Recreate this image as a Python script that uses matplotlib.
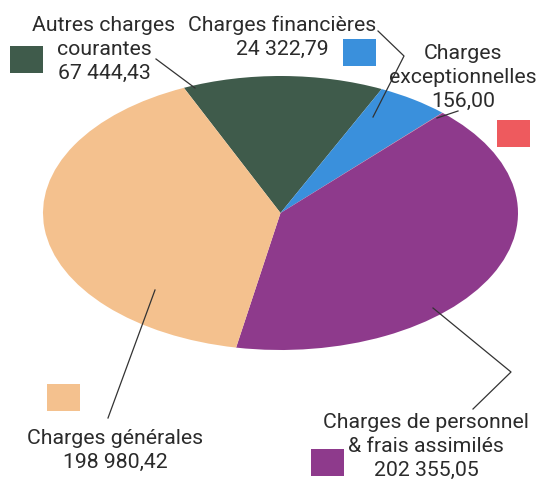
import numpy as np
import matplotlib.pyplot as plt
from matplotlib.patches import Rectangle

# Répartition des charges (euros)
categories = ['Autres charges\ncourantes', 'Charges financières', 'Charges\nexceptionnelles',
              'Charges de personnel\n& frais assimilés', 'Charges générales']
values = [67444.43, 24322.79, 156.00, 202355.05, 198980.42]
value_labels = ['67 444,43', '24 322,79', '156,00', '202 355,05', '198 980,42']
colors = ['#3f5b4b', '#3a90dc', '#ee5a5e', '#8e3a8c', '#f4c18e']

W, H = 542, 480
fig = plt.figure(figsize=(W / 100, H / 100), dpi=100)
plt.rcParams['font.family'] = ['Roboto', 'DejaVu Sans']


def fig_box(x0, y0, x1, y1):
    # pixel box (top-left origin) -> figure fraction
    return [x0 / W, 1 - y1 / H, (x1 - x0) / W, (y1 - y0) / H]


# elliptical pie: a circle pie squashed by a non-square axes
ax = fig.add_axes(fig_box(43, 76, 518, 350))
ax.pie(values, colors=colors, startangle=114, counterclock=False, radius=1,
       wedgeprops=dict(linewidth=0))
ax.set_aspect('auto')
ax.set_xlim(-1, 1)
ax.set_ylim(-1, 1)
ax.axis('off')

# overlay in pixel coordinates for labels, swatches and leader lines
ov = fig.add_axes([0, 0, 1, 1], zorder=5)
ov.set_xlim(0, W)
ov.set_ylim(H, 0)
ov.axis('off')
ov.patch.set_alpha(0)

fs = 15.3
# label centre x and baseline of the first line, line step 24 px
text_pos = [(104, 31), (282, 31), (463, 59), (426, 428), (115, 444)]
for (tx, ty), cat, val in zip(text_pos, categories, value_labels):
    lines = cat.split('\n') + [val]
    for i, line in enumerate(lines):
        ov.text(tx, ty + 24 * i, line, ha='center', va='baseline', fontsize=fs,
                color='#2b2b2b')

swatches = [(10, 46), (343, 39), (497, 120), (311, 449), (47, 384)]
for (sx, sy), c in zip(swatches, colors):
    ov.add_patch(Rectangle((sx, sy), 33, 27, facecolor=c, edgecolor='none'))

leaders = [
    [(156, 59), (195, 88)],
    [(378, 31), (404, 56), (373, 117)],
    [(458, 111), (437, 118)],
    [(433, 308), (511, 372), (473, 409)],
    [(155, 290), (108, 418)],
]
for pts in leaders:
    xs, ys = zip(*pts)
    ov.plot(xs, ys, color='#333333', lw=0.9)

fig.savefig('out.png', dpi=100)
